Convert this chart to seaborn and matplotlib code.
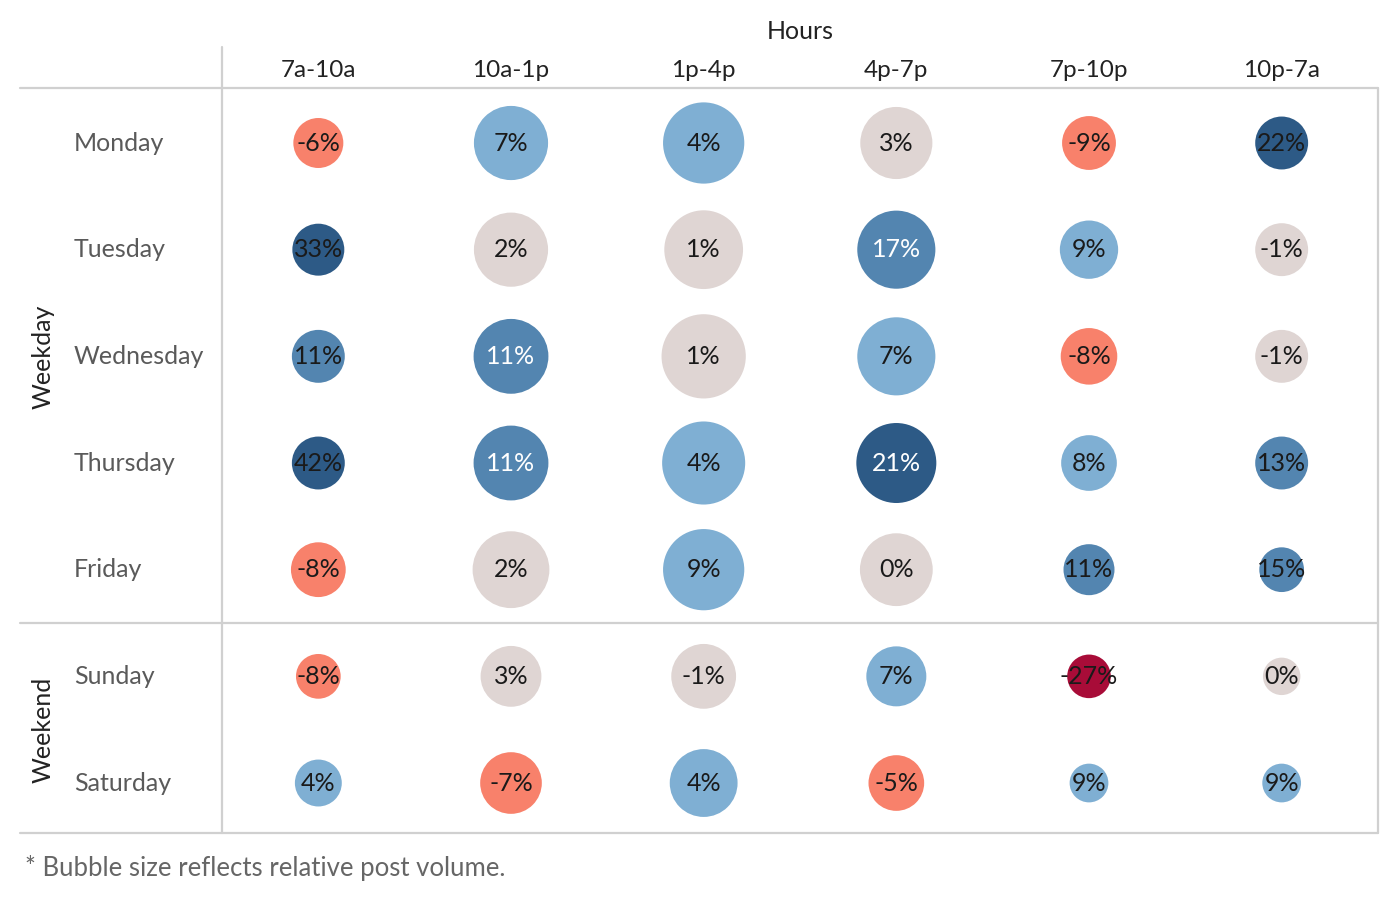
import numpy as np
import pandas as pd
import matplotlib
matplotlib.use("Agg")
import matplotlib.pyplot as plt
import matplotlib.transforms as mtransforms
import seaborn as sns

# ---- data ----
days = ["Monday", "Tuesday", "Wednesday", "Thursday", "Friday", "Sunday", "Saturday"]
hours = ["7a-10a", "10a-1p", "1p-4p", "4p-7p", "7p-10p", "10p-7a"]

# change in engagement (%) per day x hour block
change = [
    [-6, 7, 4, 3, -9, 22],
    [33, 2, 1, 17, 9, -1],
    [11, 11, 1, 7, -8, -1],
    [42, 11, 4, 21, 8, 13],
    [-8, 2, 9, 0, 11, 15],
    [-8, 3, -1, 7, -27, 0],
    [4, -7, 4, -5, 9, 9],
]

# relative post volume (bubble area)
volume = [
    [25, 55, 66, 52, 29, 28],
    [27, 55, 62, 61, 34, 28],
    [28, 56, 71, 61, 32, 28],
    [28, 56, 69, 64, 31, 28],
    [30, 59, 66, 53, 26, 20],
    [20, 37, 42, 36, 19, 14],
    [22, 38, 46, 31, 15, 15],
]

weekday_days = ["Monday", "Tuesday", "Wednesday", "Thursday", "Friday"]
weekend_days = ["Sunday", "Saturday"]

bin_edges = [-100, -10, -1.5, 3.5, 10, 20, 100]
bin_names = ["vneg", "neg", "flat", "pos", "mpos", "vpos"]
bin_colors = {
    "vneg": "#a80c38",
    "neg": "#f8816b",
    "flat": "#dfd5d3",
    "pos": "#7fafd3",
    "mpos": "#5385b0",
    "vpos": "#2d5a86",
}

rows = []
for i, d in enumerate(days):
    for j, h in enumerate(hours):
        rows.append({"day": d, "hour": h, "change": change[i][j], "volume": volume[i][j]})
df = pd.DataFrame(rows)
df["bin"] = pd.cut(df["change"], bins=bin_edges, labels=bin_names).astype(str)

# ---- figure ----
sns.set_style("white")
plt.rcParams["font.family"] = ["Lato", "DejaVu Sans"]

W, H = 1400, 900
fig = plt.figure(figsize=(14, 9), dpi=100)
ax = fig.add_axes([222 / W, 1 - 833 / H, 1156 / W, 745 / H])

vmax = df["volume"].max()
px_to_pt = 0.72
sns.scatterplot(data=df, x="hour", y="day", hue="bin", palette=bin_colors,
                size="volume", sizes=(0, (px_to_pt * 10) ** 2 * vmax),
                size_norm=(0, vmax), linewidth=0, legend=False,
                ax=ax, clip_on=False, zorder=3)

# row pitch ~106.7 px, first row 55 px below the header line
pitch = 106.67
ylo = -55 / pitch
yhi = ylo + 745 / pitch
ax.set_xlim(-0.5, len(hours) - 0.5)
ax.set_ylim(yhi, ylo)
for s in ax.spines.values():
    s.set_visible(False)

# bubble labels
for _, r in df.iterrows():
    x = hours.index(r["hour"])
    y = days.index(r["day"])
    light = r["bin"] in ("mpos", "vpos") and r["volume"] >= 50
    ax.text(x, y, f"{r['change']}%", ha="center", va="center", fontsize=18,
            color="white" if light else "#1a1a1a", zorder=4)

# column headers on top
ax.xaxis.tick_top()
ax.set_xticks(range(len(hours)))
ax.set_xticklabels(hours, fontsize=17.5, color="#222222")
ax.tick_params(axis="x", length=0, pad=5)
ax.xaxis.set_label_position("top")
ax.set_xlabel("Hours", fontsize=18, color="#222222", labelpad=15)
ax.set_yticks([])
ax.set_ylabel("")

# row labels and group labels
trans = mtransforms.blended_transform_factory(fig.transFigure, ax.transData)
for i, d in enumerate(days):
    ax.text(74 / W, i, d, transform=trans, ha="left", va="center",
            fontsize=18, color="#5a5a5a")

wd_mid = (days.index(weekday_days[0]) + days.index(weekday_days[-1])) / 2
we_mid = (days.index(weekend_days[0]) + days.index(weekend_days[-1])) / 2
ax.text(43 / W, wd_mid, "Weekday", transform=trans, rotation=90,
        ha="center", va="center", fontsize=18, color="#222222")
ax.text(43 / W, we_mid, "Weekend", transform=trans, rotation=90,
        ha="center", va="center", fontsize=18, color="#222222")

# grid lines
line_kw = dict(color="#d0d0d0", lw=1.6, clip_on=False, zorder=1)
left_ext = -(222 - 20) / 1156
sep = len(weekday_days) - 0.5
for yv in [ylo, sep, yhi]:
    ax.axhline(yv, xmin=left_ext, xmax=1, **line_kw)
ax.axvline(-0.5, ymin=0, ymax=1 + (88 - 47) / 745, **line_kw)
ax.axvline(len(hours) - 0.5, ymin=0, ymax=1, **line_kw)

fig.text(25 / W, 1 - 868 / H, "* Bubble size reflects relative post volume.",
         ha="left", va="center", fontsize=18.5, color="#666666")

fig.savefig("out.png", dpi=100)
